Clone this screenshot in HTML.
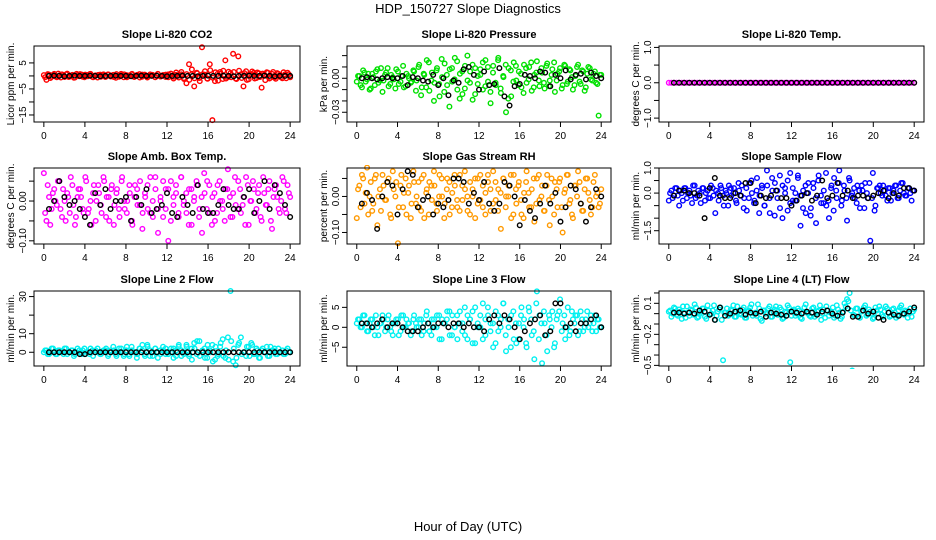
<!DOCTYPE html>
<html><head><meta charset="utf-8"><style>
body{margin:0;background:#fff}
svg{display:block;font-family:"Liberation Sans",sans-serif}
</style></head><body>
<svg id="c" width="936" height="540" viewBox="0 0 936 540">
<text x="468" y="13" text-anchor="middle" font-size="13">HDP_150727  Slope Diagnostics</text>
<text x="468" y="531" text-anchor="middle" font-size="13">Hour of Day (UTC)</text>
</svg>
<script>
// ---- data (values in panel units; see scale) ----
const co2Colored=[0.3,-1.5,0.5,-0.3,0.8,-0.5,0.2,0.6,-0.4,0.9,-0.2,0.4,-0.6,0.3,0.7,-0.3,0.5,-0.1,0.8,-0.5,0.2,0.4,-0.3,0.6,-0.2,0.5,0.1,-0.4,0.7,-0.3,0.3,0.6,-0.5,0.2,0.8,-0.1,0.4,-0.6,0.5,0.1,-0.3,0.6,0.2,-0.4,0.7,-0.2,0.3,0.5,-0.5,0.9,-0.3,0.4,0.1,0.6,-0.8,-2.8,4.5,0.6,-4,1.2,-0.8,11,0.5,-1,4.5,-17,-2,0.8,1.5,-1.2,6,-0.5,1.1,8.5,-1,7.5,0.6,-4,1.8,-1.3,0.7,1.2,-0.8,1,-4.5,0.5,1.4,-1,0.8,-0.6,1.1,0.3,-0.9,0.6,1.2,-0.5];
const co2Colored2=[-0.5,0.7,-0.8,0.4,-0.2,0.9,-0.6,0.3,0.6,-0.4,0.2,-0.7,0.8,-0.1,0.5,-0.5,0.3,0.7,-0.3,0.1,-0.6,0.5,0.2,-0.4,0.6,-0.2,0.4,-0.7,0.1,0.8,-0.5,0.3,-0.1,0.6,-0.4,0.2,0.7,-0.3,0.5,-0.6,0.1,0.4,-0.5,0.8,-0.2,0.3,-0.4,0.6,0.8,-1,1.3,-0.6,1.5,-1.2,0.7,-1.5,2.5,-0.9,1,-2,0.6,1.8,-1.1,2.2,-0.7,1.4,-1.8,0.9,2,-1,1.6,-0.5,1.5,-1.2,2,-0.8,1.1,-1.5,0.6,1.7,-1,1.3,-0.4,0.9,-1.6,1.2,-0.7,1.5,-1.1,0.8,-0.5,1.4,-0.9,0.6];
const co2Black=[0,0.1,0,-0.1,0,0.1,0,0,0.1,0,-0.1,0,0,0.1,0,0,-0.1,0,0.1,0,0,0.1,0,-0.1,0,0,0.1,0,0,-0.1,0,0.1,0,0,0.1,0,-0.1,0,0,0.1,0,0,0.1,0,-0.1,0,0,0];
const presColored=[-3,2,-8,5,-1,-10,4,-6,8,-2,-12,3,9,-5,1,-9,6,-3,11,-7,2,-4,7,-11,10,-15,4,-8,14,-2,-20,7,-5,17,-12,3,-25,9,-1,15,-18,6,-9,20,-4,12,-14,2,8,-10,16,-3,-22,11,-6,18,-13,1,-30,9,-16,14,-2,6,-8,12,-4,10,-11,3,15,-7,5,-9,13,-2,8,-12,4,9,-6,11,-3,7,-10,2,12,-5,6,-8,10,-1,4,-4,-33,3];
const presColored2=[2,-6,7,-3,4,-9,1,6,-4,9,-2,5,-7,3,-1,8,-5,2,-8,4,0,-3,6,-2,12,-8,3,16,-11,5,-4,9,-16,1,13,-6,8,-3,18,-10,4,-14,11,-2,6,-19,9,-5,3,14,-7,10,-12,5,-4,16,-9,2,12,-18,7,-3,11,-6,4,-13,9,-1,14,-8,5,-2,9,-4,11,-7,3,14,-2,6,-9,12,-5,8,1,-6,10,-3,7,-11,4,9,-2,6,-5,3];
const presBlack=[0,1,0,-1,0,1,0,0,2,-6,1,0,-2,-3,3,-6,0,-15,-2,-4,8,10,3,-10,6,-6,-5,9,-16,-24,-7,-5,3,2,0,6,5,-7,3,0,7,-1,3,4,-1,5,2,0];
const tempColored=[0,0,0,0,0,0,0,0,0,0,0,0,0,0,0,0,0,0,0,0,0,0,0,0,0,0,0,0,0,0,0,0,0,0,0,0,0,0,0,0,0,0,0,0,0,0,0,0,0,0,0,0,0,0,0,0,0,0,0,0,0,0,0,0,0,0,0,0,0,0,0,0,0,0,0,0,0,0,0,0,0,0,0,0,0,0,0,0,0,0,0,0,0,0,0,0];
const tempColored2=[];
const tempBlack=[0,0,0,0,0,0,0,0,0,0,0,0,0,0,0,0,0,0,0,0,0,0,0,0,0,0,0,0,0,0,0,0,0,0,0,0,0,0,0,0,0,0,0,0,0,0,0,0];
const boxColored=[7,-5,1,-2,3,-1,5,-4,0,2,-3,4,-6,1,3,-2,6,-3,0,2,-5,4,-1,6,-4,1,3,-6,2,-2,5,0,-3,4,-5,1,3,-1,-7,2,4,-3,0,6,-2,1,-4,3,-10,5,-1,2,-4,6,0,-3,3,-6,1,4,-2,-8,2,5,-3,1,-5,4,0,-2,3,8,-4,2,-1,5,-3,1,6,-6,0,3,-2,4,-5,2,-1,5,-7,3,1,-3,6,-2,4,1];
const boxColored2=[-3,4,-6,2,0,5,-2,3,-5,1,6,-1,-4,3,1,-3,5,-2,-6,4,0,2,-3,5,1,-5,4,-1,3,-4,6,-2,0,2,-6,4,-1,5,-3,1,-2,6,-4,3,-8,0,5,-2,3,-5,1,4,-3,6,-1,2,-6,3,0,5,-4,1,7,-2,4,-6,2,-3,5,0,-5,3,1,-4,6,-2,3,-1,-6,4,0,5,-3,2,-4,6,-1,3,-5,1,4,-2,0,5,-3,2];
const boxBlack=[-2,0,5,1,-1,0,-2,-4,-6,2,-1,3,-2,0,0,1,-5,1,-1,3,-3,-2,-1,2,-3,-4,1,-1,-3,4,-2,-3,-3,-1,3,-1,-2,-2,1,3,-3,0,5,-2,4,2,-1,-4];
const rhColored=[-6,3,6,-2,8,0,-4,5,-8,2,6,-1,4,-5,7,0,-13,3,-3,5,1,-6,7,-2,4,-4,6,1,-5,3,7,-2,0,5,-6,2,4,-3,6,-1,-4,3,7,0,-5,2,5,-2,6,-3,1,4,-4,7,-1,2,-9,5,0,3,-6,6,-2,4,-5,1,7,-3,2,-7,5,-1,3,-4,6,-8,0,4,-3,5,-10,2,6,-1,-6,3,7,-2,-4,5,1,-5,4,0,-3,2];
const rhColored2=[2,-3,5,1,-5,4,-2,6,0,-4,3,-1,5,-6,2,4,-3,6,1,-5,3,-2,4,0,-3,5,-6,2,4,-1,3,-4,6,0,-2,5,-5,1,3,-3,6,-1,2,-4,4,0,-6,5,-1,3,-5,6,2,-2,4,-4,1,5,-3,0,6,-5,2,3,-1,-6,4,1,-3,5,-2,6,0,-4,3,-1,5,-5,2,4,-3,1,6,-2,-5,3,0,4,-4,2,5,-1,-3,6,1,-2];
const rhBlack=[-2,1,-1,-9,0,4,3,-5,2,7,6,-3,-1,0,-5,-2,-3,-1,5,5,4,-2,1,-1,4,-2,-4,-2,4,3,0,-8,-1,-4,-6,-2,3,-2,1,-7,-3,3,2,-2,-7,-3,2,0];
const flowColored=[-3,1,-1,2,-5,0,2,-2,1,-4,3,-1,0,2,-3,1,-2,2,-8,0,3,-1,1,-5,2,0,-3,4,-1,-6,2,-2,5,-4,1,-8,3,-5,9,-2,6,-9,1,7,-10,2,-7,8,-3,0,6,-13,1,-8,4,-6,2,-12,7,-4,1,-5,-10,3,6,-2,9,-3,1,-11,5,0,-2,3,-6,1,4,-2,-19,8,-5,2,0,3,-1,2,-3,1,3,-2,4,0,-1,2,-3,1];
const flowColored2=[0,-2,2,-1,1,-3,2,0,-1,3,-2,1,-4,2,0,-2,3,-1,1,-3,2,-5,0,3,-1,2,-4,1,3,-2,-7,4,0,-3,6,-1,2,-5,3,-8,1,4,-2,-6,3,0,5,-4,2,-3,7,-1,-6,3,0,-9,4,-2,5,-1,-4,8,-3,2,-7,1,4,-5,3,-2,6,-1,2,-4,1,3,-6,0,4,-2,-7,2,3,-1,1,-3,2,0,3,-2,1,4,-1,2,0,1];
const flowBlack=[-1,1,1,0,0,-1,-10,2,6,-1,-2,-2,0,-1,4,4,-4,-1,-2,-1,1,-2,-2,-5,-3,-1,0,-3,-1,5,-2,-1,4,-1,1,-2,-1,-1,-2,-1,0,1,-2,0,-1,2,2,1];
const line2Colored=[0,1,-1,2,0,-1,1,0,2,-1,0,1,-1,2,0,1,-1,0,2,-2,1,0,-1,1,2,-1,0,1,-2,2,0,-1,3,-2,1,0,-1,2,4,-2,3,1,-2,2,0,-1,1,2,-1,0,2,-2,3,1,-1,4,-2,2,5,-1,6,0,2,-3,1,4,-4,-2,3,7,-3,8,33,-5,-7,4,8,0,-2,3,5,-1,2,-3,1,0,3,-2,1,2,-1,0,1,-1,2,0];
const line2Colored2=[1,-1,0,2,-1,1,0,-1,2,0,1,-2,0,1,-1,2,0,-1,1,0,2,-1,0,1,-2,1,3,-1,0,2,-2,1,-1,3,0,-3,2,1,-1,4,-2,0,2,-3,1,3,-1,0,2,-3,1,4,-2,0,3,-1,-4,2,6,-2,1,-3,4,0,-5,3,-1,5,-2,1,-4,6,2,-3,5,-1,0,3,-2,4,-1,1,-3,2,0,-2,3,1,-1,2,0,-1,1,0];
const line2Black=[0,0,0,0,0,0,-1,-1,0,0,0,0,0,0,0,0,0,0,0,0,0,0,0,0,0,0,0,0,0,0,0,0,0,0,0,0,0,0,0,0,0,0,0,0,0,0,0,0];
const line3Colored=[1,2,0,3,-1,1,2,-2,0,1,3,-1,2,0,-2,1,2,-1,3,0,1,-2,2,1,0,2,-1,3,1,-2,2,0,3,-3,1,2,4,-2,0,3,1,-1,5,-3,2,4,-4,1,0,6,-2,3,1,-5,4,-1,2,6,-6,0,3,-3,-4,1,5,2,-5,4,-2,-8,9,3,-9,1,-6,2,4,-4,3,7,1,-3,5,-1,2,3,-2,4,-1,2,0,3,1,-1,2,0];
const line3Colored2=[2,0,3,1,-1,2,0,3,-2,1,2,0,3,-1,1,2,-2,3,0,2,1,-1,3,0,2,-2,1,4,-1,2,0,3,-3,2,1,4,-2,3,0,-3,4,1,-2,3,2,-4,5,0,3,-3,2,5,-1,1,-4,3,0,6,-2,2,-5,4,1,-3,3,0,-4,5,2,-1,6,-3,1,4,-2,3,0,-5,2,4,-1,3,0,-2,4,1,3,-1,2,0,4,1,-1,3,2,0];
const line3Black=[1,1,0,1,2,0,1,1,0,-1,-1,-1,0,1,0,1,1,0,1,1,0,1,0,0,-1,2,3,1,3,2,0,-3,-1,1,2,3,-2,-1,6,6,0,1,-1,1,1,2,3,0];
const line4Colored=[2,-3,6,-1,4,-5,1,7,-2,3,9,-4,0,5,-3,8,-1,3,-6,2,6,-45,1,-2,4,8,-3,2,-1,6,-4,3,9,0,-2,5,-7,3,1,7,-3,4,-1,6,-5,2,8,-47,3,-2,5,-4,1,9,0,-3,6,-1,3,-6,4,7,-2,2,-4,8,1,-3,10,14,20,-55,-2,5,-4,3,8,-1,2,-5,6,0,4,-3,7,1,-2,5,-4,3,8,-1,2,0,-3,4];
const line4Colored2=[3,0,5,-2,2,7,-4,1,4,-1,6,-3,2,5,-5,3,0,8,-2,4,-6,1,5,-1,3,-3,7,0,4,-4,2,6,-2,1,9,-5,3,0,5,-3,2,7,-1,4,-4,1,6,-2,4,0,3,-5,6,1,-2,5,-3,2,8,0,-4,3,1,6,-2,4,-5,2,7,12,3,-1,5,-3,2,6,-2,4,0,-4,3,7,-1,2,5,-3,4,1,-2,6,0,3,-4,5,2];
const line4Black=[1,1,0,1,0,3,2,-1,-6,6,-2,0,2,3,-1,1,0,2,-3,1,0,-1,-2,2,1,0,2,1,-1,2,3,0,-2,1,5,-3,-3,3,0,2,-4,-6,1,-1,-2,0,2,6];
const xTicks=[0,4,8,12,16,20,24];

const cols=[[34,300],[347,611],[659,924]];
const rows=[[46,122],[168,244],[291,366]];
const panels=[
 {t:"Slope Li-820 CO2",yl:"Licor ppm per min.",c:"#ff0000",col:co2Colored,col2:co2Colored2,blk:co2Black,s:1,ymin:-17.7,ymax:11.5,ticks:[5,0,-5,-10,-15],labs:{"5":"5","-5":"\u22125","-15":"\u221215"}},
 {t:"Slope Li-820 Pressure",yl:"kPa per min.",c:"#00e000",col:presColored,col2:presColored2,blk:presBlack,s:0.001,ymin:-0.0386,ymax:0.0285,ticks:[0.02,0.01,0,-0.01,-0.02,-0.03],labs:{"0":"0.00","-0.03":"\u22120.03"}},
 {t:"Slope Li-820 Temp.",yl:"degrees C per min.",c:"#ff00ff",col:tempColored,col2:tempColored2,blk:tempBlack,s:1,ymin:-1.11,ymax:1.04,ticks:[1,0.5,0,-0.5,-1],labs:{"1":"1.0","0":"0.0","-1":"\u22121.0"}},
 {t:"Slope Amb. Box Temp.",yl:"degrees C per min.",c:"#ff00ff",col:boxColored,col2:boxColored2,blk:boxBlack,s:0.01,ymin:-0.108,ymax:0.083,ticks:[0.05,0,-0.05,-0.1],labs:{"0":"0.00","-0.1":"\u22120.10"}},
 {t:"Slope Gas Stream RH",yl:"percent per min.",c:"#ff9900",col:rhColored,col2:rhColored2,blk:rhBlack,s:0.01,ymin:-0.132,ymax:0.079,ticks:[0.05,0,-0.05,-0.1],labs:{"0":"0.00","-0.1":"\u22120.10"}},
 {t:"Slope Sample Flow",yl:"ml/min per min.",c:"#0000ff",col:flowColored,col2:flowColored2,blk:flowBlack,s:0.1,ymin:-2.03,ymax:1.0,ticks:[1,0.5,0,-0.5,-1,-1.5],labs:{"1":"1.0","0":"0.0","-1.5":"\u22121.5"}},
 {t:"Slope Line 2 Flow",yl:"ml/min per min.",c:"#00f0f0",col:line2Colored,col2:line2Colored2,blk:line2Black,s:1,ymin:-7.4,ymax:33,ticks:[0,10,20,30],labs:{"0":"0","10":"10","30":"30"}},
 {t:"Slope Line 3 Flow",yl:"ml/min per min.",c:"#00f0f0",col:line3Colored,col2:line3Colored2,blk:line3Black,s:1,ymin:-9.7,ymax:9.1,ticks:[5,0,-5],labs:{"5":"5","0":"0","-5":"\u22125"}},
 {t:"Slope Line 4 (LT) Flow",yl:"ml/min per min.",c:"#00f0f0",col:line4Colored,col2:line4Colored2,blk:line4Black,s:0.01,ymin:-0.506,ymax:0.219,ticks:[0.2,0.1,0,-0.1,-0.2,-0.3,-0.4,-0.5],labs:{"0.1":"0.1","-0.2":"\u22120.2","-0.5":"\u22120.5"}}
];
const NS="http://www.w3.org/2000/svg";
const svg=document.getElementById('c');
function mk(tag,at,parent){const e=document.createElementNS(NS,tag);for(const k in at)e.setAttribute(k,at[k]);(parent||svg).appendChild(e);return e;}
panels.forEach((p,i)=>{
 const [x0,x1]=cols[i%3],[y0,y1]=rows[Math.floor(i/3)];
 const g=mk('g',{});
 
 
 const sx=v=>x0+(v+0.96)/25.92*(x1-x0);
 const sy=v=>y1-(v-p.ymin)/(p.ymax-p.ymin)*(y1-y0);
 const tt=mk('text',{x:(x0+x1)/2,y:y0-8,'text-anchor':'middle','font-size':11,'font-weight':'bold'},g);tt.textContent=p.t;
 
 
 const pts=mk('g',{fill:'none','stroke-width':1.4},g);
 
 
 const clip='cl'+i;
 const cp=mk('clipPath',{id:clip},g);mk('rect',{x:x0,y:y0-3,width:x1-x0,height:y1-y0+6},cp);
 pts.setAttribute('clip-path','url(#'+clip+')');
 const n=p.col.length;
 p.col.forEach((v,k)=>{const c=mk('circle',{cx:sx(24*k/(n-1)),cy:sy(v*p.s),r:2.3,stroke:p.c},pts);
  
  });
 const n2=p.col2.length;
 p.col2.forEach((v,k)=>{const c=mk('circle',{cx:sx(24*(k+0.5)/n2),cy:sy(v*p.s),r:2.3,stroke:p.c},pts);
  
  });
 const m=p.blk.length;
 p.blk.forEach((v,k)=>{const c=mk('circle',{cx:sx(0.5+23.5*k/(m-1)),cy:sy(v*p.s),r:2.3,stroke:'#000'},pts);
  
  });
 const fr=mk('rect',{x:x0,y:y0,width:x1-x0,height:y1-y0,fill:'none',stroke:'#000','stroke-width':1},g);
 
 
 xTicks.forEach(t=>{const x=sx(t);mk('line',{x1:x,x2:x,y1:y1,y2:y1+5,stroke:'#000'},g);
  const l=mk('text',{x:x,y:y1+17,'text-anchor':'middle','font-size':10},g);l.textContent=t;
  
  });
 p.ticks.forEach(t=>{const y=sy(t);mk('line',{x1:x0-5,x2:x0,y1:y,y2:y,stroke:'#000'},g);
  const key=String(t);if(p.labs[key]!==undefined){const l=mk('text',{x:x0-8,y:y,'text-anchor':'middle','font-size':10,transform:`rotate(-90 ${x0-8} ${y})`},g);l.textContent=p.labs[key];
  
  }});
 const yc=(y0+y1)/2,xl=x0-20;
 const yl=mk('text',{x:xl,y:yc,'text-anchor':'middle','font-size':10,transform:`rotate(-90 ${xl} ${yc})`},g);yl.textContent=p.yl;
 
 
});
</script>
</body></html>
